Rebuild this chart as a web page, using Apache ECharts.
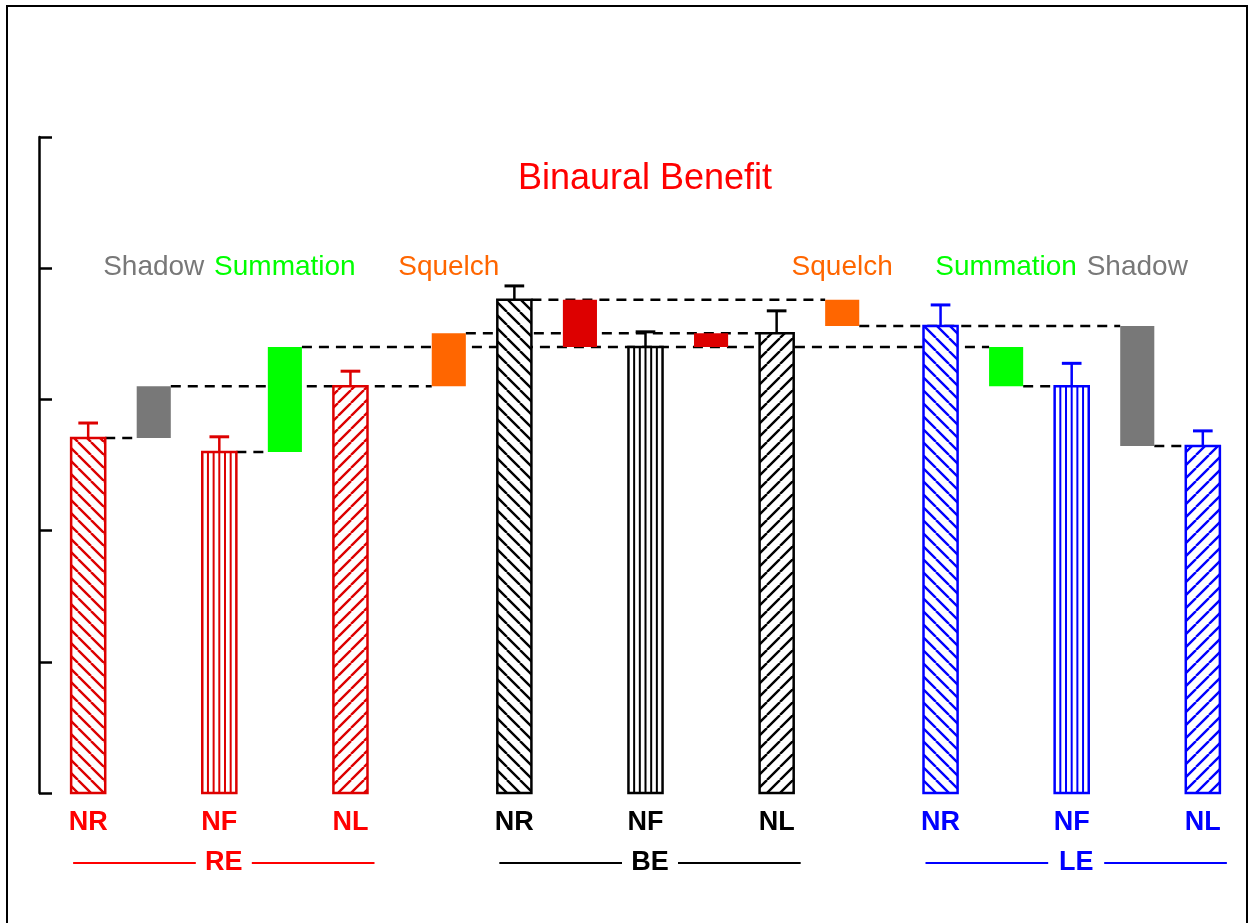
<!DOCTYPE html>
<html>
<head>
<meta charset="utf-8">
<script src="https://cdn.jsdelivr.net/npm/echarts@6/dist/echarts.min.js"></script>
<style>
  html, body { margin: 0; padding: 0; background: #fff; }
  #chart { width: 1252px; height: 923px; }
</style>
</head>
<body>
<div id="chart"></div>
<script>
// Scores for the three noise conditions, per ear configuration
const groups = ['RE', 'BE', 'LE'];
const conditions = ['NR', 'NF', 'NL'];
const reScores = [54.1, 52.0, 62.0];
const beScores = [75.2, 68.0, 70.1];
const leScores = [71.2, 62.0, 52.9];
const reErrors = [2.3, 2.3, 2.3];
const beErrors = [2.1, 2.3, 3.4];
const leErrors = [3.2, 3.5, 2.3];

// Binaural benefit components, drawn as floating bars from low to high
const benefitNames = ['Shadow', 'Summation', 'Squelch', '', '', 'Squelch', 'Summation', 'Shadow'];
const benefitLow  = [54.1, 52.0, 62.0, 68.0, 68.0, 71.2, 62.0, 52.9];
const benefitHigh = [62.0, 68.0, 70.1, 75.2, 70.1, 75.2, 68.0, 71.2];

const titleText = 'Binaural Benefit';

// ---- layout / style ----
const FONT = "'Liberation Sans', Arial, Helvetica, sans-serif";
const groupColors = ['#dd0000', '#000000', '#0000ff'];
const labelColors = ['#ff0000', '#000000', '#0000ff'];
const barSlots = [[0, 2, 4], [6.5, 8.5, 10.5], [13, 15, 17]];
const benefitSlots = [1, 3, 5.5, 7.5, 9.5, 11.5, 14, 16];
const benefitColors = ['#787878', '#00ff00', '#ff6600', '#dd0000', '#dd0000', '#ff6600', '#00ff00', '#787878'];
const HALF = 0.26;        // half bar width, slot units
const CAP = 0.15;         // half error-cap width, slot units
const LABEL_LEVEL = 80.2; // height of the benefit captions

const scores = [reScores, beScores, leScores];
const errors = [reErrors, beErrors, leErrors];

// dashed guides: [from slot, to slot, level]
const connectors = [
  [barSlots[0][0], benefitSlots[0], reScores[0]],
  [benefitSlots[0], benefitSlots[2], reScores[2]],
  [barSlots[0][1], benefitSlots[1], reScores[1]],
  [benefitSlots[1], benefitSlots[6], beScores[1]],
  [benefitSlots[2], barSlots[1][2], beScores[2]],
  [barSlots[1][0], benefitSlots[5], beScores[0]],
  [benefitSlots[5], benefitSlots[7], leScores[0]],
  [benefitSlots[6], barSlots[2][1], leScores[1]],
  [benefitSlots[7], barSlots[2][2], leScores[2]]
];

// diagonal hatch tiles
const hatchCache = {};
function hatch(color, dir) {
  const key = color + dir;
  if (hatchCache[key]) return hatchCache[key];
  const p = 13;
  const cv = document.createElement('canvas');
  cv.width = p; cv.height = p;
  const ctx = cv.getContext('2d');
  ctx.strokeStyle = color;
  ctx.lineWidth = 2.4;
  ctx.beginPath();
  for (let k = -1; k <= 1; k++) {
    if (dir === 'back') { ctx.moveTo(k * p, 0); ctx.lineTo(k * p + p, p); }
    else { ctx.moveTo(k * p, p); ctx.lineTo(k * p + p, 0); }
  }
  ctx.stroke();
  hatchCache[key] = { image: cv, repeat: 'repeat' };
  return hatchCache[key];
}

const barData = [];
groups.forEach((g, gi) => conditions.forEach((c, ci) => {
  barData.push([barSlots[gi][ci], scores[gi][ci], errors[gi][ci], gi, ci]);
}));
const benefitData = benefitSlots.map((s, i) => [s, benefitLow[i], benefitHigh[i], i]);

function renderConnector(params, api) {
  const a = api.coord([api.value(0) + HALF, api.value(2)]);
  const b = api.coord([api.value(1) - HALF, api.value(2)]);
  return {
    type: 'line',
    shape: { x1: a[0], y1: a[1], x2: b[0], y2: b[1] },
    style: { stroke: '#000', lineWidth: 2.5, lineDash: [10, 7] }
  };
}

function renderBar(params, api) {
  const slot = api.value(0), v = api.value(1), gi = api.value(3), ci = api.value(4);
  const p0 = api.coord([slot - HALF, v]);
  const p1 = api.coord([slot + HALF, 0]);
  const shape = { x: p0[0], y: p0[1], width: p1[0] - p0[0], height: p1[1] - p0[1] };
  const color = groupColors[gi];
  const children = [{ type: 'rect', shape: shape, style: { fill: '#fff' } }];
  if (ci === 1) {
    for (let i = 1; i < 6; i++) {
      const x = shape.x + shape.width * i / 6;
      children.push({ type: 'line', shape: { x1: x, y1: shape.y, x2: x, y2: shape.y + shape.height },
        style: { stroke: color, lineWidth: 2 } });
    }
  } else {
    children.push({ type: 'rect', shape: shape, style: { fill: hatch(color, ci === 0 ? 'back' : 'fwd') } });
  }
  children.push({ type: 'rect', shape: shape, style: { fill: 'none', stroke: color, lineWidth: 2.5 } });
  // error bar
  const top = api.coord([slot, v + api.value(2)]);
  const capL = api.coord([slot - CAP, v + api.value(2)]);
  const capR = api.coord([slot + CAP, v + api.value(2)]);
  children.push({ type: 'line', shape: { x1: top[0], y1: p0[1], x2: top[0], y2: top[1] },
    style: { stroke: color, lineWidth: 2.5 } });
  children.push({ type: 'line', shape: { x1: capL[0], y1: capL[1], x2: capR[0], y2: capR[1] },
    style: { stroke: color, lineWidth: 3 } });
  // condition label
  const base = api.coord([slot, 0]);
  children.push({ type: 'text', x: base[0], y: base[1] + 30,
    style: { text: conditions[ci], fill: labelColors[gi], font: 'bold 27px ' + FONT,
      textAlign: 'center', textVerticalAlign: 'middle' } });
  return { type: 'group', children: children };
}

function renderBenefit(params, api) {
  const slot = api.value(0), i = api.value(3);
  const p0 = api.coord([slot - HALF, api.value(2)]);
  const p1 = api.coord([slot + HALF, api.value(1)]);
  const children = [{ type: 'rect',
    shape: { x: p0[0], y: p0[1], width: p1[0] - p0[0], height: p1[1] - p0[1] },
    style: { fill: benefitColors[i] } }];
  if (benefitNames[i]) {
    const t = api.coord([slot, LABEL_LEVEL]);
    children.push({ type: 'text', x: t[0], y: t[1],
      style: { text: benefitNames[i], fill: benefitColors[i], font: '28px ' + FONT,
        textAlign: 'center', textVerticalAlign: 'middle' } });
  }
  return { type: 'group', children: children };
}

function renderGroup(params, api) {
  const gi = api.value(0);
  const a = api.coord([barSlots[gi][0] - HALF, 0]);
  const b = api.coord([barSlots[gi][2] + HALF, 0]);
  const x1 = a[0] + 2, x2 = b[0] + 7, y = a[1] + 70;
  const mid = (x1 + x2) / 2;
  const color = labelColors[gi];
  return { type: 'group', children: [
    { type: 'line', shape: { x1: x1, y1: y, x2: mid - 28, y2: y }, style: { stroke: color, lineWidth: 2 } },
    { type: 'line', shape: { x1: mid + 28, y1: y, x2: x2, y2: y }, style: { stroke: color, lineWidth: 2 } },
    { type: 'text', x: mid, y: y, style: { text: groups[gi], fill: color, font: 'bold 27px ' + FONT,
      textAlign: 'center', textVerticalAlign: 'middle' } }
  ] };
}

const chart = echarts.init(document.getElementById('chart'));
chart.setOption({
  animation: false,
  backgroundColor: '#fff',
  grid: { left: 39, right: 0, top: 137, bottom: 130 },
  xAxis: { type: 'value', min: -0.75, max: 17.75, show: false },
  yAxis: {
    type: 'value', min: 0, max: 100, interval: 20,
    axisLine: { show: true, onZero: false, lineStyle: { color: '#000', width: 2.5 } },
    axisTick: { show: true, inside: true, length: 13, lineStyle: { color: '#000', width: 2.5 } },
    axisLabel: { show: false },
    splitLine: { show: false }
  },
  graphic: [
    { type: 'rect', shape: { x: 7, y: 6, width: 1240, height: 960 },
      style: { fill: 'none', stroke: '#000', lineWidth: 2 }, silent: true },
    { type: 'text', x: 645, y: 179, style: { text: titleText, fill: '#ff0000', font: '36px ' + FONT,
      textAlign: 'center', textVerticalAlign: 'middle' } }
  ],
  series: [
    { type: 'custom', z: 1, data: connectors, renderItem: renderConnector, silent: true },
    { type: 'custom', z: 2, data: barData, renderItem: renderBar, silent: true },
    { type: 'custom', z: 3, data: benefitData, renderItem: renderBenefit, silent: true },
    { type: 'custom', z: 3, data: groups.map((g, i) => [i]), renderItem: renderGroup, silent: true }
  ]
});
</script>
</body>
</html>
